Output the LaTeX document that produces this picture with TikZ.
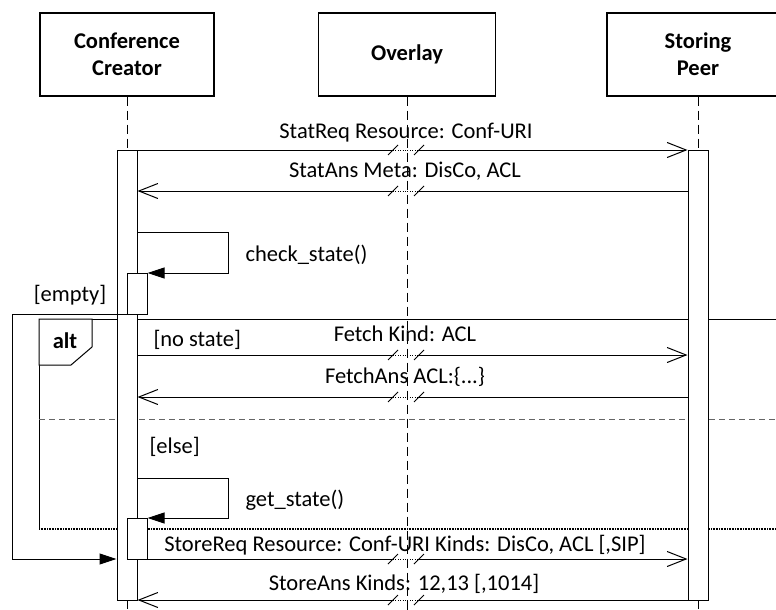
\documentclass[tikz,border=0pt]{standalone}
\usepackage{fontspec}
\setmainfont{Carlito}
\usetikzlibrary{arrows.meta}
% break mark where a message passes the overlay lifeline
\newcommand\gapmark[1]{%
  \fill[white] (393,#1-2.5) rectangle (419,#1+2.5);
  \draw[line width=0.8pt, dash pattern=on 1pt off 1.4pt] (393,#1) -- (419,#1);
  \draw[line width=0.8pt] (388,#1+5) -- (398,#1-5);
  \draw[line width=0.8pt] (414,#1+5) -- (424,#1-5);}
\begin{document}
\begin{tikzpicture}[x=1pt,y=-1pt, line width=1pt,
  every node/.style={inner sep=0pt, font=\fontsize{22.5}{27}\selectfont},
  actor/.style={draw, line width=1.2pt, minimum height=83pt, align=center,
                font=\fontsize{22.5}{27}\selectfont\bfseries},
  lifeline/.style={dash pattern=on 9pt off 5pt},
  bar/.style={draw, fill=white, minimum width=20pt},
  reply/.style={-{Straight Barb[length=19pt,width=15pt]}},
  call/.style={-{Triangle[length=17pt,width=11pt]}},
  lbl/.style={anchor=base},
  guard/.style={anchor=base west}]
\useasboundingbox (0,0) rectangle (776,610);
\clip (0,0) rectangle (776,610);

% participants
\node[actor, minimum width=174pt] (cc) at (127,54.5) {Conference\\Creator};
\node[actor, minimum width=177pt] (ov) at (407,54.5) {Overlay};
\node[actor, minimum width=182pt] (sp) at (698,54.5) {Storing\\Peer};

% message rows
\coordinate (y1) at (0,150);
\coordinate (y2) at (0,191);
\coordinate (y3) at (0,232);
\coordinate (c1) at (228,273);
\coordinate (y4) at (0,355);
\coordinate (y5) at (0,397);
\coordinate (y6) at (0,478);
\coordinate (c2) at (228,518);
\coordinate (y8) at (0,559);
\coordinate (y9) at (0,600);
\coordinate (back) at (12,559);
\coordinate (ccEnd) at (127,612);
\coordinate (ovEnd) at (407,612);
\coordinate (spEnd) at (698,612);

% alt combined fragment
\draw (790,319) -- (39,319) -- (39,529);
\draw[line width=1.2pt, dash pattern=on 1pt off 0.6pt] (39,529) -- (790,529);
\draw[black!60, dash pattern=on 6pt off 4pt] (39,419) -- (790,419);

% lifelines of the end participants
\draw[lifeline] (cc.south) -- (127,150);
\draw[lifeline] (sp.south) -- (698,150);
\draw[lifeline] (127,600) -- (ccEnd);
\draw[lifeline] (698,600) -- (spEnd);

% activation bars
\node[bar, minimum height=450pt] (barCC) at (127,375) {};
\node[bar, minimum height=450pt] (barSP) at (698,375) {};
\node[bar, minimum height=41pt] (act1) at (137,293.5) {};
\node[bar, minimum height=41pt] (act2) at (137,538.5) {};

% fragment tag
\draw[fill=white] (39,319) -- (92,319) -- (92,347) -- (71,365) -- (39,365) -- cycle;
\node[lbl, font=\fontsize{22.5}{27}\selectfont\bfseries] (tAlt) at (65,348) {alt};

% messages
\draw[reply] (barCC.east |- y1) -- (barSP.west |- y1);
\draw[reply] (barSP.west |- y2) -- (barCC.east |- y2);
\draw[call] (barCC.east |- y3) -| (c1) -- (c1 -| act1.east);
\draw[call] (act1.south west) -| (back) -- (back -| barCC.west);
\draw[reply] (barCC.east |- y4) -- (barSP.west |- y4);
\draw[reply] (barSP.west |- y5) -- (barCC.east |- y5);
\draw[call] (barCC.east |- y6) -| (c2) -- (c2 -| act2.east);
\draw[reply] (act2.east |- y8) -- (barSP.west |- y8);
\draw[reply] (barSP.west |- y9) -- (barCC.east |- y9);

% breaks at the overlay
\gapmark{150}
\gapmark{191}
\gapmark{355}
\gapmark{397}
\gapmark{559}
\gapmark{600}

% overlay lifeline
\draw[lifeline] (ov.south) -- (ovEnd);

% labels
\node[lbl] (tReq) at (406,138) {StatReq Resource: Conf-URI};
\node[lbl] (tAns) at (405,177) {StatAns Meta: DisCo, ACL};
\node[guard] (tChk) at (245,261) {check\_state()};
\node[lbl] (tEmpty) at (70,301) {[empty]};
\node[guard] (tNo) at (153,346) {[no state]};
\node[lbl] (tFetch) at (405,341) {Fetch Kind: ACL};
\node[lbl] (tFAns) at (405,383) {FetchAns ACL:\{...\}};
\node[guard] (tElse) at (149,453) {[else]};
\node[guard] (tGet) at (245,506) {get\_state()};
\node[lbl] (tStore) at (405,551) {StoreReq Resource: Conf-URI Kinds: DisCo, ACL [,SIP]};
\node[lbl] (tSAns) at (404,590) {StoreAns Kinds: 12,13 [,1014]};
\end{tikzpicture}
\end{document}
